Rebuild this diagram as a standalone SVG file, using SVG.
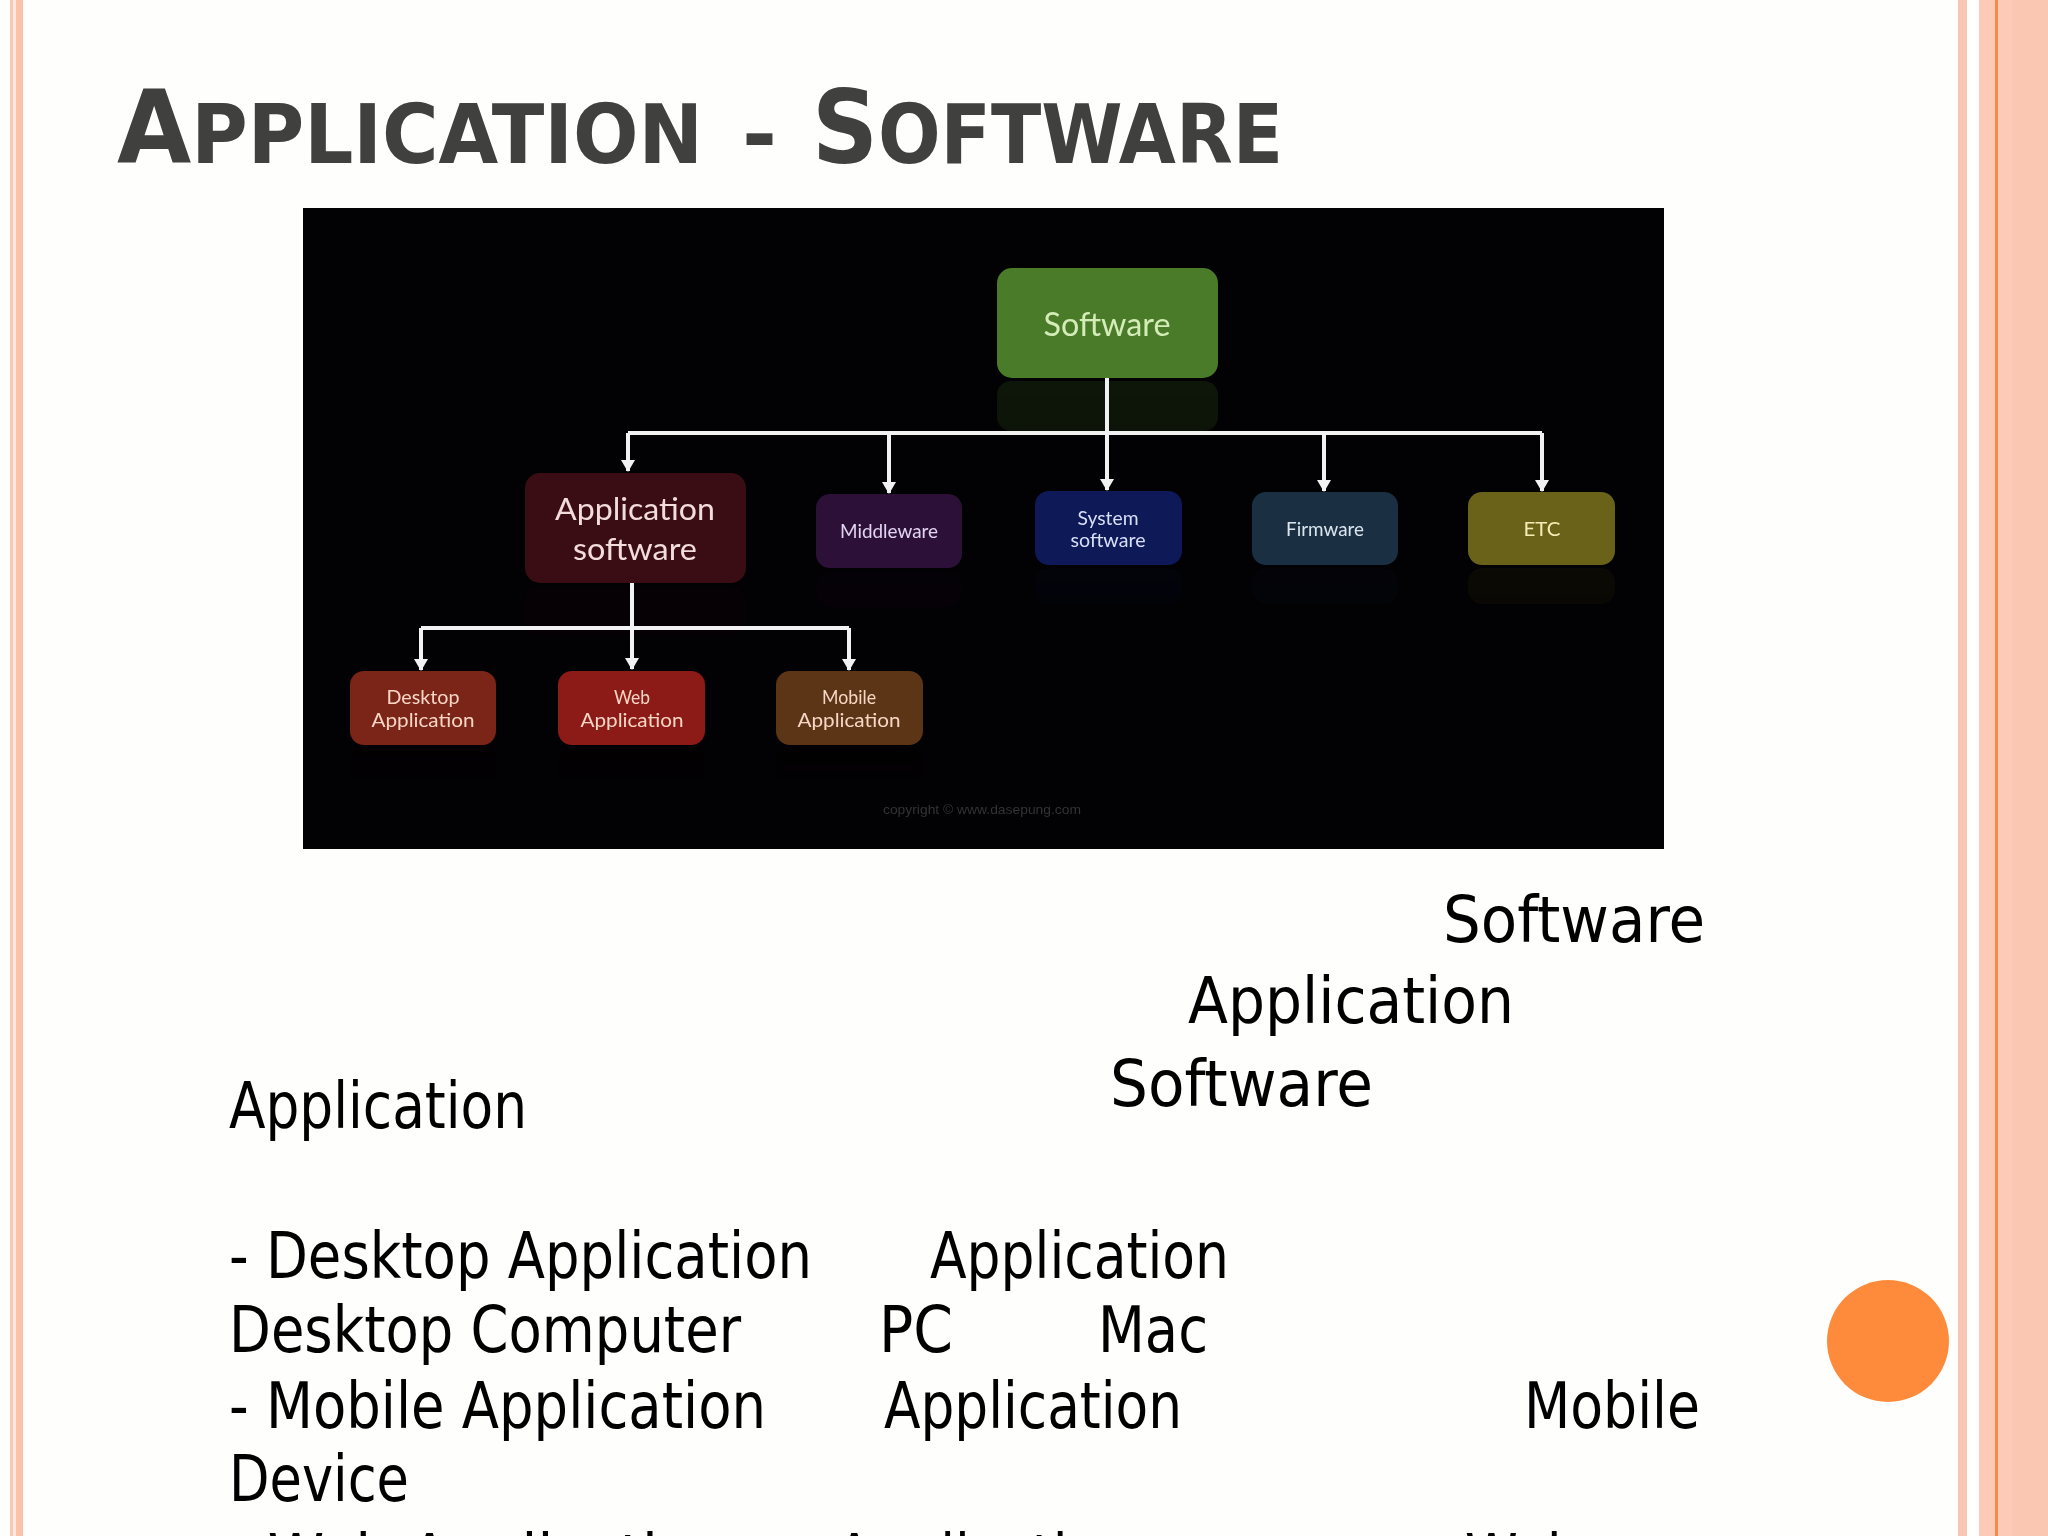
<svg xmlns="http://www.w3.org/2000/svg" width="2048" height="1536" viewBox="0 0 2048 1536">
  <style>
    .title { font-family: "DejaVu Sans Condensed", "Liberation Sans", sans-serif; font-weight: bold; fill: #40403e; }
    .body { font-family: "DejaVu Sans Condensed", "Liberation Sans", sans-serif; font-size: 64px; fill: #000; }
    .nt { font-family: Lato, "Open Sans", "Liberation Sans", sans-serif; text-anchor: middle; }
    .conn { stroke: #f2f2f2; stroke-width: 4; fill: none; }
    .arrow { stroke: #f2f2f2; stroke-width: 4; fill: none; marker-end: url(#ah); }
    .refl { opacity: 0.18; }
  </style>
  <defs>
    <marker id="ah" markerUnits="userSpaceOnUse" viewBox="0 -7 12 14" markerWidth="12" markerHeight="14" refX="11" refY="0" orient="auto">
      <path d="M0,-7 L12,0 L0,7 z" fill="#f2f2f2"/>
    </marker>
    <linearGradient id="fadeGrad" x1="0" y1="0" x2="0" y2="1">
      <stop offset="0" stop-color="#fff" stop-opacity="1"/>
      <stop offset="1" stop-color="#fff" stop-opacity="0"/>
    </linearGradient>
    <mask id="fade" maskContentUnits="objectBoundingBox">
      <rect width="1" height="1" fill="url(#fadeGrad)"/>
    </mask>
  </defs>

  <!-- slide background -->
  <rect x="0" y="0" width="2048" height="1536" fill="#fefefd"/>
  <!-- left border -->
  <rect x="10" y="0" width="3" height="1536" fill="#f8c8b9"/>
  <rect x="13" y="0" width="3" height="1536" fill="#fde9e2"/>
  <rect x="16" y="0" width="7" height="1536" fill="#fbc1ab"/>
  <!-- right border -->
  <rect x="1958" y="0" width="9" height="1536" fill="#fbc5b4"/>
  <rect x="1967" y="0" width="12" height="1536" fill="#ffffff"/>
  <rect x="1979" y="0" width="69" height="1536" fill="#fccab6"/>
  <rect x="2012" y="0" width="36" height="1536" fill="#f9c7b2"/>
  <rect x="1995" y="0" width="3" height="1536" fill="#f68b45"/>
  <!-- orange circle -->
  <circle cx="1888" cy="1341" r="61" fill="#fd8b3b"/>

  <!-- title -->
  <text class="title" x="117" y="163" textLength="586" lengthAdjust="spacingAndGlyphs"><tspan font-size="102">A</tspan><tspan font-size="82">PPLICATION</tspan></text>
  <text class="title" x="742" y="163" font-size="82" textLength="35" lengthAdjust="spacingAndGlyphs">-</text>
  <text class="title" x="812" y="163" textLength="471" lengthAdjust="spacingAndGlyphs"><tspan font-size="102">S</tspan><tspan font-size="82">OFTWARE</tspan></text>

  <!-- diagram picture background -->
  <rect x="303" y="208" width="1361" height="641" fill="#020103"/>

  <!-- reflections -->
  <g id="reflections" mask="url(#fade)">
    <rect class="refl" x="997" y="381" width="221" height="50" rx="14" fill="#4a7b28"/>
    <rect class="refl" x="525" y="586" width="221" height="50" rx="14" fill="#3a0d14"/>
    <rect class="refl" x="816" y="571" width="146" height="36" rx="14" fill="#2c1038"/>
    <rect class="refl" x="1035" y="568" width="147" height="36" rx="14" fill="#0e1a58"/>
    <rect class="refl" x="1252" y="568" width="146" height="36" rx="14" fill="#1a2f42"/>
    <rect class="refl" x="1468" y="568" width="147" height="36" rx="14" fill="#6a6218"/>
    <rect class="refl" x="350" y="748" width="146" height="36" rx="14" fill="#7b2418"/>
    <rect class="refl" x="558" y="748" width="147" height="36" rx="14" fill="#8c1b17"/>
    <rect class="refl" x="776" y="748" width="147" height="36" rx="14" fill="#5c3516"/>
  </g>

  <!-- connectors -->
  <g id="connectors">
    <path class="conn" d="M628 433 H1542"/>
    <path class="arrow" d="M1107 378 V490"/>
    <path class="arrow" d="M628 433 V471"/>
    <path class="arrow" d="M889 433 V493"/>
    <path class="arrow" d="M1324 433 V491"/>
    <path class="arrow" d="M1542 433 V491"/>
    <path class="conn" d="M421 628 H849"/>
    <path class="arrow" d="M632 583 V669"/>
    <path class="arrow" d="M421 628 V670"/>
    <path class="arrow" d="M849 628 V670"/>
  </g>

  <!-- nodes -->
  <g id="node-software">
    <rect x="997" y="268" width="221" height="110" rx="15" fill="#4a7b28"/>
    <text class="nt" x="1107" y="336" font-size="33" fill="#d4ecb8" textLength="127" lengthAdjust="spacingAndGlyphs">Software</text>
  </g>
  <g id="node-application-software">
    <rect x="525" y="473" width="221" height="110" rx="15" fill="#3a0d14"/>
    <text class="nt" x="635" y="520" font-size="30" fill="#f2dcdc" textLength="160" lengthAdjust="spacingAndGlyphs">Application</text>
    <text class="nt" x="635" y="560" font-size="30" fill="#f2dcdc" textLength="124" lengthAdjust="spacingAndGlyphs">software</text>
  </g>
  <g id="node-middleware">
    <rect x="816" y="494" width="146" height="74" rx="14" fill="#2c1038"/>
    <text class="nt" x="889" y="538" font-size="19" fill="#e2d4f0" textLength="98" lengthAdjust="spacingAndGlyphs">Middleware</text>
  </g>
  <g id="node-system-software">
    <rect x="1035" y="491" width="147" height="74" rx="14" fill="#0e1a58"/>
    <text class="nt" x="1108" y="525" font-size="19" fill="#dadff8" textLength="61" lengthAdjust="spacingAndGlyphs">System</text>
    <text class="nt" x="1108" y="547" font-size="19" fill="#dadff8" textLength="75" lengthAdjust="spacingAndGlyphs">software</text>
  </g>
  <g id="node-firmware">
    <rect x="1252" y="492" width="146" height="73" rx="14" fill="#1a2f42"/>
    <text class="nt" x="1325" y="536" font-size="19" fill="#dbe5ee" textLength="78" lengthAdjust="spacingAndGlyphs">Firmware</text>
  </g>
  <g id="node-etc">
    <rect x="1468" y="492" width="147" height="73" rx="14" fill="#6a6218"/>
    <text class="nt" x="1542" y="536" font-size="19" fill="#f4ecb4" textLength="37" lengthAdjust="spacingAndGlyphs">ETC</text>
  </g>
  <g id="node-desktop-application">
    <rect x="350" y="671" width="146" height="74" rx="14" fill="#7b2418"/>
    <text class="nt" x="423" y="704" font-size="20" fill="#f8d6c6" textLength="73" lengthAdjust="spacingAndGlyphs">Desktop</text>
    <text class="nt" x="423" y="727" font-size="20" fill="#f8d6c6" textLength="103" lengthAdjust="spacingAndGlyphs">Application</text>
  </g>
  <g id="node-web-application">
    <rect x="558" y="671" width="147" height="74" rx="14" fill="#8c1b17"/>
    <text class="nt" x="632" y="704" font-size="20" fill="#f8d6c6" textLength="36" lengthAdjust="spacingAndGlyphs">Web</text>
    <text class="nt" x="632" y="727" font-size="20" fill="#f8d6c6" textLength="103" lengthAdjust="spacingAndGlyphs">Application</text>
  </g>
  <g id="node-mobile-application">
    <rect x="776" y="671" width="147" height="74" rx="14" fill="#5c3516"/>
    <text class="nt" x="849" y="704" font-size="20" fill="#f8d6c6" textLength="54" lengthAdjust="spacingAndGlyphs">Mobile</text>
    <text class="nt" x="849" y="727" font-size="20" fill="#f8d6c6" textLength="103" lengthAdjust="spacingAndGlyphs">Application</text>
  </g>

  <text x="982" y="814" font-family="'Liberation Sans', sans-serif" font-size="13" fill="#333333" text-anchor="middle" textLength="198" lengthAdjust="spacingAndGlyphs">copyright © www.dasepung.com</text>

  <!-- body text -->
  <g id="body-text">
    <text class="body" x="1443" y="942" textLength="262" lengthAdjust="spacingAndGlyphs">Software</text>
    <text class="body" x="1188" y="1023" textLength="326" lengthAdjust="spacingAndGlyphs">Application</text>
    <text class="body" x="1110" y="1106" textLength="263" lengthAdjust="spacingAndGlyphs">Software</text>
    <text class="body" x="229" y="1128" textLength="298" lengthAdjust="spacingAndGlyphs">Application</text>
    <text class="body" x="229" y="1278" textLength="583" lengthAdjust="spacingAndGlyphs">- Desktop Application</text>
    <text class="body" x="930" y="1278" textLength="299" lengthAdjust="spacingAndGlyphs">Application</text>
    <text class="body" x="229" y="1352" textLength="512" lengthAdjust="spacingAndGlyphs">Desktop Computer</text>
    <text class="body" x="879" y="1352" textLength="74" lengthAdjust="spacingAndGlyphs">PC</text>
    <text class="body" x="1098" y="1352" textLength="110" lengthAdjust="spacingAndGlyphs">Mac</text>
    <text class="body" x="229" y="1428" textLength="537" lengthAdjust="spacingAndGlyphs">- Mobile Application</text>
    <text class="body" x="884" y="1428" textLength="298" lengthAdjust="spacingAndGlyphs">Application</text>
    <text class="body" x="1524" y="1428" textLength="176" lengthAdjust="spacingAndGlyphs">Mobile</text>
    <text class="body" x="229" y="1501" textLength="180" lengthAdjust="spacingAndGlyphs">Device</text>
    <text class="body" x="229" y="1580" textLength="500" lengthAdjust="spacingAndGlyphs">- Web Application</text>
    <text class="body" x="836" y="1580" textLength="298" lengthAdjust="spacingAndGlyphs">Application</text>
    <text class="body" x="1465" y="1580" textLength="116" lengthAdjust="spacingAndGlyphs">Web</text>
  </g>
</svg>
